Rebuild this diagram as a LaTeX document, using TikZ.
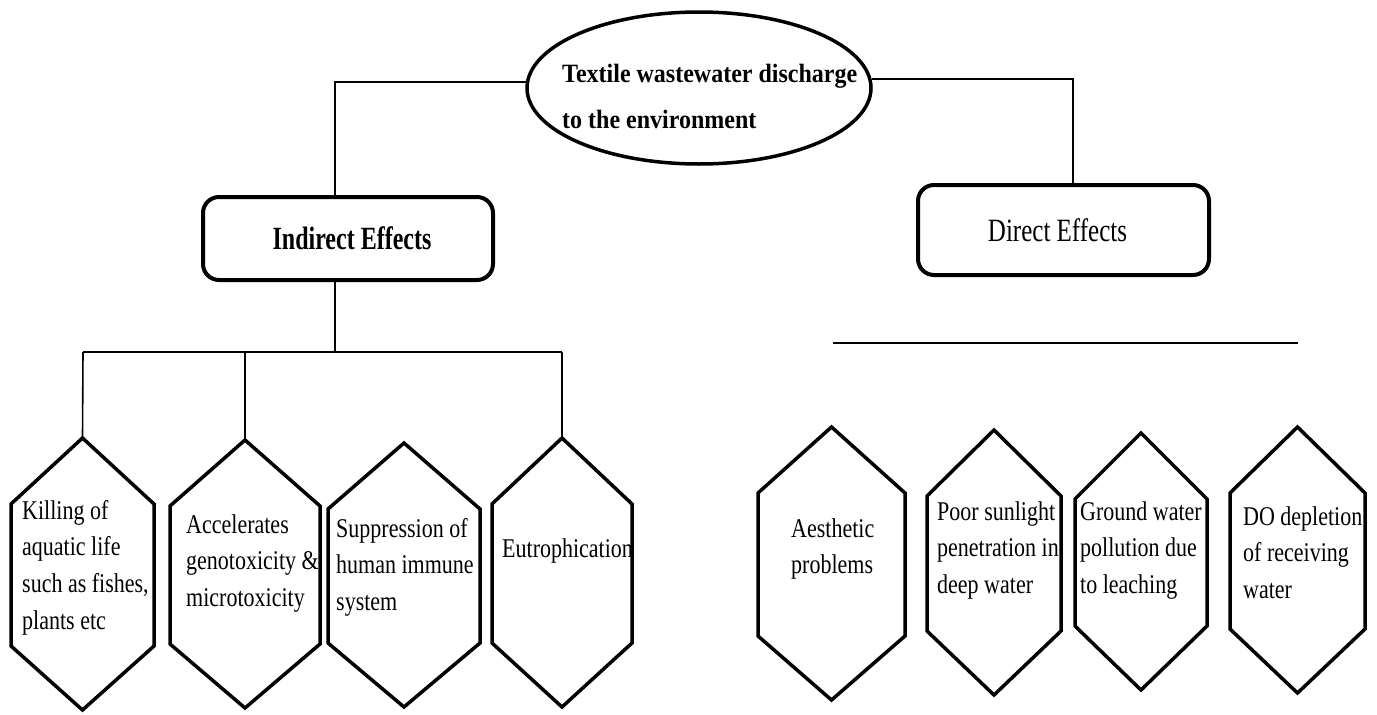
\documentclass[tikz,border=0pt]{standalone}
\usepackage{fontspec}
\setmainfont{Liberation Serif}
\usetikzlibrary{shapes.geometric}
\newcommand\vlines[2]{\scalebox{1}[#1]{\begin{tabular}[t]{@{}l@{}}#2\end{tabular}}}
\newcommand\hexframe[1]{\draw[hexline] (#1.north) -- ([yshift=-66pt]#1.north east) -- ([yshift=64pt]#1.south east) -- (#1.south) -- ([yshift=64pt]#1.south west) -- ([yshift=-66pt]#1.north west) -- cycle;}
\tikzset{
  hexbox/.style={rectangle, inner sep=0pt, outer sep=0pt},
  hexline/.style={draw=black, line width=3.5pt, line join=miter},
  hextext/.style={inner sep=0pt, anchor=base west, font=\fontsize{22}{30}\selectfont},
  effbox/.style={draw=black, line width=4pt, rounded corners=16pt, inner sep=0pt},
  conn/.style={draw=black, line width=1.6pt},
  barline/.style={draw=black, line width=2.6pt},
}
\begin{document}
\begin{tikzpicture}[x=1pt, y=-1pt]
\useasboundingbox (0,0) rectangle (1377,715);
% source ellipse
\node[ellipse, draw=black, line width=3.5pt, minimum width=344pt, minimum height=152pt, inner sep=0pt] (src) at (699,88) {};
\node[inner sep=0pt, anchor=base west, font=\bfseries\fontsize{24}{46}\selectfont] (srct) at (562,82)
  {\begin{tabular}[t]{@{}l@{}}\scalebox{1}[1.1]{Textile wastewater discharge}\\\scalebox{1}[1.1]{to the environment}\end{tabular}};
% effect boxes
\node[effbox, minimum width=290pt, minimum height=83pt, font=\bfseries\fontsize{24}{28}\selectfont] (ind) at (348,238.5) {\hspace*{8pt}\scalebox{1}[1.35]{Indirect Effects}};
\node[effbox, minimum width=291pt, minimum height=90pt, font=\fontsize{25}{28}\selectfont] (dir) at (1063.5,230) {\scalebox{1}[1.3]{Direct Effects}\hspace*{12pt}};
% hexagons (indirect)
\node[hexbox, minimum width=143pt, minimum height=272pt] (h1) at (82.5,574) {};
\node[hexbox, minimum width=150pt, minimum height=268pt] (h2) at (245,574) {};
\node[hexbox, minimum width=152pt, minimum height=264pt] (h3) at (404,575) {};
\node[hexbox, minimum width=140pt, minimum height=269pt] (h4) at (562,572.5) {};
% hexagons (direct)
\node[hexbox, minimum width=147pt, minimum height=273pt] (h5) at (831.5,563.5) {};
\node[hexbox, minimum width=134pt, minimum height=265pt] (h6) at (994,562.5) {};
\node[hexbox, minimum width=132pt, minimum height=257pt] (h7) at (1141,561.5) {};
\node[hexbox, minimum width=135pt, minimum height=266pt] (h8) at (1297.5,560) {};
\foreach \h in {h1,h2,h3,h4,h5,h6,h7,h8}{\hexframe{\h}}
% hexagon texts
\node[hextext] (t1) at (22,519) {\vlines{1.23}{Killing of\\aquatic life\\such as fishes,\\plants etc}};
\node[hextext] (t2) at (186,533) {\vlines{1.23}{Accelerates\\genotoxicity \&\\microtoxicity}};
\node[hextext] (t3) at (336,537) {\vlines{1.23}{Suppression of\\human immune\\system}};
\node[hextext] (t4) at (502,557) {\vlines{1.23}{Eutrophication}};
\node[hextext] (t5) at (791,537) {\vlines{1.23}{Aesthetic\\problems}};
\node[hextext] (t6) at (937,520) {\vlines{1.23}{Poor sunlight\\penetration in\\deep water}};
\node[hextext] (t7) at (1080,520) {\vlines{1.23}{Ground water\\pollution due\\to leaching}};
\node[hextext] (t8) at (1243,525) {\vlines{1.23}{DO depletion\\of receiving\\water}};
% connectors
\coordinate (jx) at (335,0);
\coordinate (dx) at (1073,0);
\coordinate (bl) at (83,352);
\coordinate (br) at (562,352);
\coordinate (rl) at (833,343);
\coordinate (rr) at (1298,343);
\draw[conn] (src.178.3) -| (ind.north -| jx);
\draw[conn] (src.3) -| (dir.north -| dx);
\draw[conn] (ind.south -| jx) -- (jx |- bl);
\draw[barline] (bl) -- (br);
\draw[conn] (bl) -- (h1.north);
\draw[conn] (h2.north |- bl) -- (h2.north);
\draw[conn] (br) -- (h4.north);
\draw[barline] (rl) -- (rr);
\end{tikzpicture}
\end{document}
